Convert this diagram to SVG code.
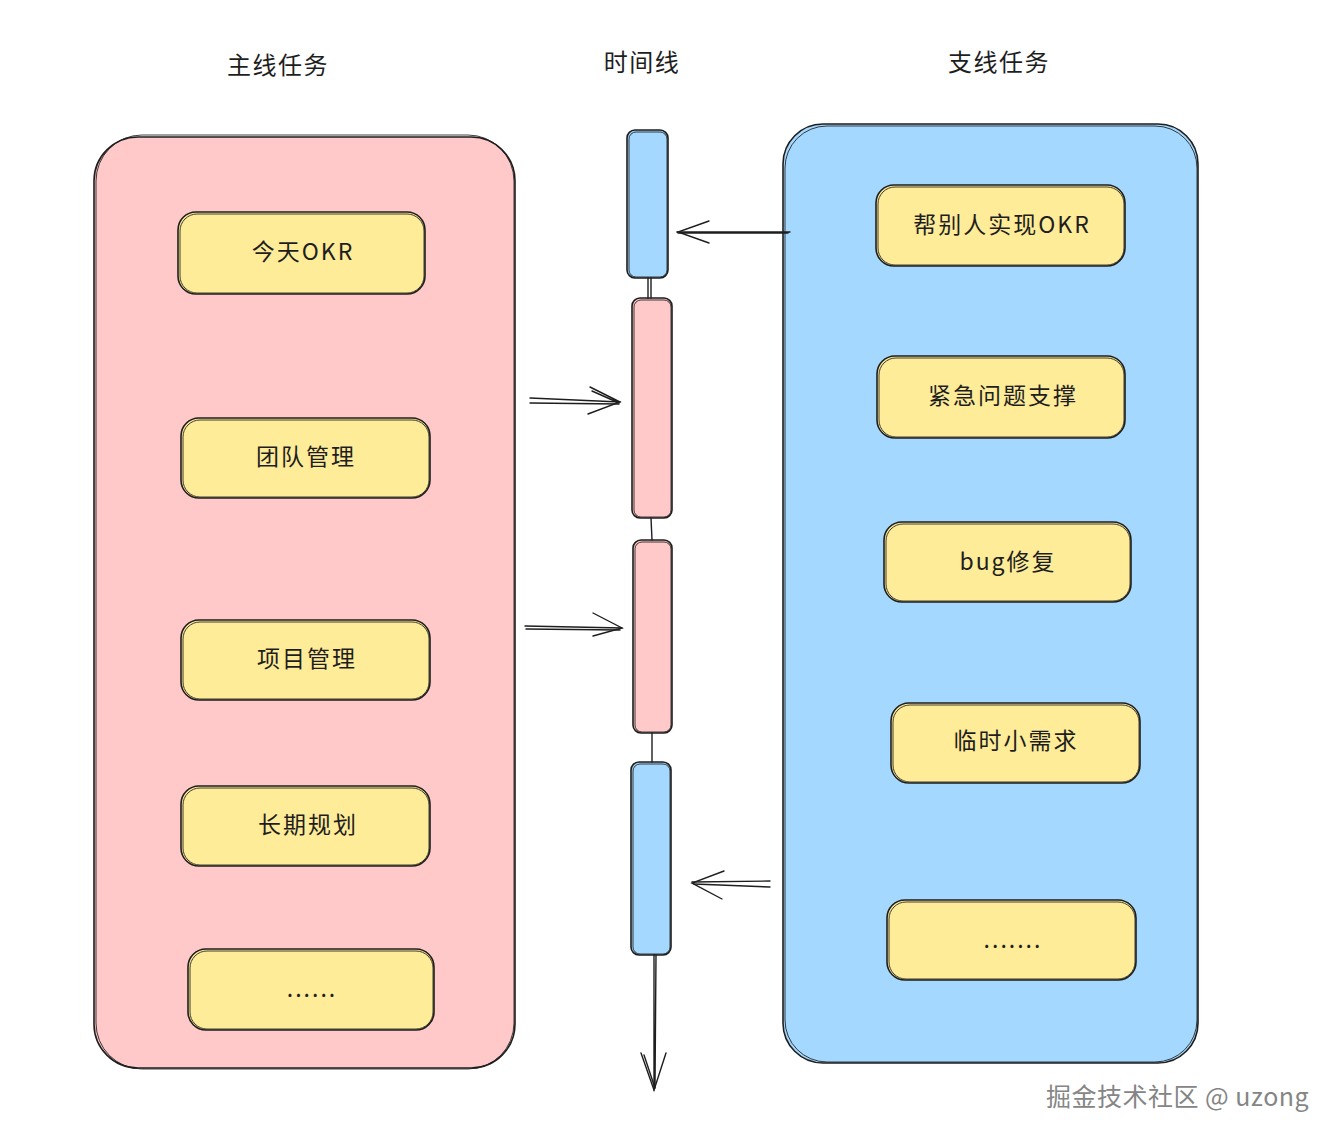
<svg xmlns="http://www.w3.org/2000/svg" width="1334" height="1142" viewBox="0 0 1334 1142">
<defs>
<style>
.stk{stroke:#1e1e1e;stroke-width:1.6;stroke-linejoin:round;stroke-linecap:round}
.stk2{fill:none;stroke:#1e1e1e;stroke-width:1;opacity:0.85}
.pink{fill:#ffc9c9}
.blue{fill:#a5d8ff}
.yel{fill:#ffec99}
.t{font-family:"Noto Sans CJK SC","Noto Sans",sans-serif;font-size:23px;letter-spacing:2px;fill:#1e1e1e;text-anchor:middle;dominant-baseline:central}
.h{font-family:"Noto Sans CJK SC","Noto Sans",sans-serif;font-size:24px;letter-spacing:1.5px;fill:#1e1e1e;text-anchor:middle;dominant-baseline:central}
.ln{fill:none;stroke:#1e1e1e;stroke-width:1.4;stroke-linecap:round}
.wm{font-family:"Noto Sans CJK SC","Noto Sans",sans-serif;font-size:25px;fill:#858585;stroke:#ffffff;stroke-width:0.6;paint-order:stroke}
</style>
</defs>
<rect width="1334" height="1142" fill="#ffffff"/>

<g id="headers">
<text class="h" x="278" y="63">主线任务</text>
<text class="h" x="642" y="60">时间线</text>
<text class="h" x="999" y="60">支线任务</text>
</g>

<g id="main-panel">
<rect class="pink stk" x="94" y="137" width="421" height="931" rx="44"/>
<rect class="stk2" x="96" y="135" width="418" height="934" rx="46"/>
</g>
<g id="side-panel">
<rect class="blue stk" x="783" y="124" width="415" height="939" rx="40"/>
<rect class="stk2" x="785" y="126" width="412" height="936" rx="42"/>
</g>

<g id="main-tasks">
<g id="m1"><rect class="yel stk" x="178" y="212" width="247" height="82" rx="18"/><rect class="stk2" x="180" y="214" width="244" height="79" rx="17"/><text class="t" x="303" y="250">今天OKR</text></g>
<g id="m2"><rect class="yel stk" x="181" y="418" width="249" height="80" rx="18"/><rect class="stk2" x="183" y="420" width="246" height="77" rx="17"/><text class="t" x="306" y="455">团队管理</text></g>
<g id="m3"><rect class="yel stk" x="181" y="620" width="249" height="80" rx="18"/><rect class="stk2" x="183" y="622" width="246" height="77" rx="17"/><text class="t" x="307" y="657">项目管理</text></g>
<g id="m4"><rect class="yel stk" x="181" y="786" width="249" height="80" rx="18"/><rect class="stk2" x="183" y="788" width="246" height="77" rx="17"/><text class="t" x="308" y="823">长期规划</text></g>
<g id="m5"><rect class="yel stk" x="188" y="949" width="246" height="81" rx="18"/><rect class="stk2" x="190" y="951" width="243" height="78" rx="17"/><text class="t" x="312" y="987">......</text></g>
</g>

<g id="side-tasks">
<g id="s1"><rect class="yel stk" x="876" y="185" width="249" height="81" rx="18"/><rect class="stk2" x="878" y="187" width="246" height="78" rx="17"/><text class="t" x="1002" y="223">帮别人实现OKR</text></g>
<g id="s2"><rect class="yel stk" x="877" y="356" width="248" height="82" rx="18"/><rect class="stk2" x="879" y="358" width="245" height="79" rx="17"/><text class="t" x="1003" y="394">紧急问题支撑</text></g>
<g id="s3"><rect class="yel stk" x="884" y="522" width="247" height="80" rx="18"/><rect class="stk2" x="886" y="524" width="244" height="77" rx="17"/><text class="t" x="1008" y="560">bug修复</text></g>
<g id="s4"><rect class="yel stk" x="891" y="703" width="249" height="80" rx="18"/><rect class="stk2" x="893" y="705" width="246" height="77" rx="17"/><text class="t" x="1016" y="739">临时小需求</text></g>
<g id="s5"><rect class="yel stk" x="887" y="900" width="249" height="80" rx="18"/><rect class="stk2" x="889" y="902" width="246" height="77" rx="17"/><text class="t" x="1013" y="938">.......</text></g>
</g>

<g id="timeline">
<g id="t1"><rect class="blue stk" x="627" y="130" width="41" height="148" rx="8"/><rect class="stk2" x="629" y="132" width="38" height="145" rx="7"/></g>
<g id="t2"><rect class="pink stk" x="632" y="298" width="40" height="220" rx="8"/><rect class="stk2" x="634" y="300" width="37" height="217" rx="7"/></g>
<g id="t3"><rect class="pink stk" x="633" y="540" width="39" height="193" rx="8"/><rect class="stk2" x="635" y="542" width="36" height="190" rx="7"/></g>
<g id="t4"><rect class="blue stk" x="631" y="762" width="40" height="193" rx="8"/><rect class="stk2" x="633" y="764" width="37" height="190" rx="7"/></g>
</g>

<g id="connectors">
<path class="ln" d="M648 278 L648 298 M651 278 L651 298"/>
<path class="ln" d="M651 518 L652 540"/>
<path class="ln" d="M652 733 L652 762"/>
<path class="ln" d="M654 955 L654 1090 M656 955 L655 1088"/>
<path class="ln" d="M641 1053 L654 1090 L666 1053 M644 1055 L655 1088"/>
<path class="ln" d="M530 398 L620 402 M530 403 L619 404"/>
<path class="ln" d="M590 387 L620 402 L588 414 M592 391 L619 403"/>
<path class="ln" d="M525 626 L622 628 M526 629 L620 630"/>
<path class="ln" d="M593 613 L622 628 L593 636"/>
<path class="ln" d="M790 232 L677 232 M788 233 L678 233"/>
<path class="ln" d="M709 221 L678 232 L709 243"/>
<path class="ln" d="M770 881 L692 882 M770 887 L694 884"/>
<path class="ln" d="M724 871 L692 883 L722 899"/>
</g>

<g id="watermark">
<text class="wm" x="1046" y="1106" letter-spacing="0.5">掘金技术社区 @ uzong</text>
</g>
</svg>
